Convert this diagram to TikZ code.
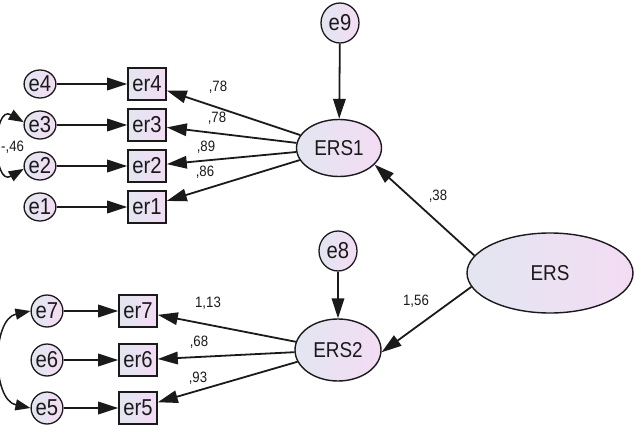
\documentclass[tikz,border=0pt]{standalone}
\usepackage{fontspec}
\setmainfont{Liberation Sans}
\newfontfamily\amosfont[FakeStretch=0.88]{Liberation Sans}
\usetikzlibrary{arrows.meta, positioning, shapes.geometric, calc}
\definecolor{NodeInk}{HTML}{1A1A1A}
\definecolor{ShadeLeft}{HTML}{E3E6F1}
\definecolor{ShadeRight}{HTML}{F3DCF3}

\begin{document}
\begin{tikzpicture}[
    x=1pt, y=-1pt,
    >={Triangle[length=20pt,width=12.5pt]},
    every node/.style={font=\amosfont\fontsize{23}{23}\selectfont, text=NodeInk},
    errvar/.style={
      ellipse,
      draw=NodeInk,
      line width=1.3pt,
      left color=ShadeLeft,
      right color=ShadeRight,
      inner sep=0pt,
      minimum width=29pt,
      minimum height=28pt,
    },
    obsvar/.style={
      rectangle,
      draw=NodeInk,
      line width=1.6pt,
      left color=ShadeLeft,
      right color=ShadeRight,
      inner sep=0pt,
      minimum width=38pt,
      minimum height=32pt,
    },
    latvar/.style={
      ellipse,
      draw=NodeInk,
      line width=1.4pt,
      left color=ShadeLeft,
      right color=ShadeRight,
      inner sep=0pt,
      font=\amosfont\fontsize{21.5}{21.5}\selectfont,
    },
    reg/.style={->, line width=1.8pt, draw=NodeInk},
    cov/.style={{Triangle[length=15pt,width=11pt]}-{Triangle[length=15pt,width=11pt]}, line width=1.5pt, draw=NodeInk},
    coef/.style={font=\amosfont\fontsize{15}{15}\selectfont, inner sep=0pt},
  ]
    \useasboundingbox (0,0) rectangle (635,436);

    % latent variables
    \node[latvar, minimum width=85pt, minimum height=57pt] (ERS1) at (339,148) {ERS1};
    \node[latvar, minimum width=86pt, minimum height=62pt] (ERS2) at (338,350) {ERS2};
    \node[latvar, minimum width=166pt, minimum height=80pt] (ERS) at (550,273) {ERS};
    \node[errvar, minimum width=38pt, minimum height=40pt] (e9) at (340,23) {e9};
    \node[errvar, minimum width=38pt, minimum height=40pt] (e8) at (338,251) {e8};

    % first factor
    \node[errvar] (e4) at (40,84) {e4};
    \node[errvar] (e3) at (40,125) {e3};
    \node[errvar] (e2) at (40,166) {e2};
    \node[errvar] (e1) at (40,207) {e1};
    \node[obsvar] (er4) at (147,84) {er4};
    \node[obsvar] (er3) at (147,125) {er3};
    \node[obsvar] (er2) at (147,166) {er2};
    \node[obsvar] (er1) at (147,207) {er1};

    % second factor
    \node[errvar, minimum height=32pt] (e7) at (47,311) {e7};
    \node[errvar, minimum height=32pt] (e6) at (47,360) {e6};
    \node[errvar, minimum height=32pt] (e5) at (47,408) {e5};
    \node[obsvar] (er7) at (138,311) {er7};
    \node[obsvar] (er6) at (138,360) {er6};
    \node[obsvar] (er5) at (138,408) {er5};

    % paths
    \draw[reg] (e4) -- (er4);
    \draw[reg] (e3) -- (er3);
    \draw[reg] (e2) -- (er2);
    \draw[reg] (e1) -- (er1);
    \draw[reg] (e7) -- (er7);
    \draw[reg] (e6) -- (er6);
    \draw[reg] (e5) -- (er5);
    \draw[reg] (ERS1) -- (er4);
    \draw[reg] (ERS1) -- (er3);
    \draw[reg] (ERS1) -- (er2);
    \draw[reg] (ERS1) -- (er1);
    \draw[reg] (ERS2) -- (er7);
    \draw[reg] (ERS2) -- (er6);
    \draw[reg] (ERS2) -- (er5);
    \draw[reg] (e9) -- (ERS1);
    \draw[reg] (e8) -- (ERS2);
    \draw[reg] (ERS.167) -- (ERS1.-25);
    \draw[reg] (ERS.190) -- (ERS2.-3);

    % covariances
    \draw[cov] (e3.170) to[out=150, in=210, looseness=2] (e2.190);
    \draw[cov] (e7.west) to[out=192, in=168, looseness=1.05] (e5.west);

    % estimates
    \node[coef] (w4) at (218,87) {,78};
    \node[coef] (w3) at (217,118) {,78};
    \node[coef] (w2) at (206,147) {,89};
    \node[coef] (w1) at (205,172) {,86};
    \node[coef] (w7) at (208,303) {1,13};
    \node[coef] (w6) at (199,342) {,68};
    \node[coef] (w5) at (198,378) {,93};
    \node[coef] (g1) at (438,196) {,38};
    \node[coef] (g2) at (416,301) {1,56};
    \node[coef, anchor=west] (c23) at (1,147) {-,46};
  \end{tikzpicture}
\end{document}
